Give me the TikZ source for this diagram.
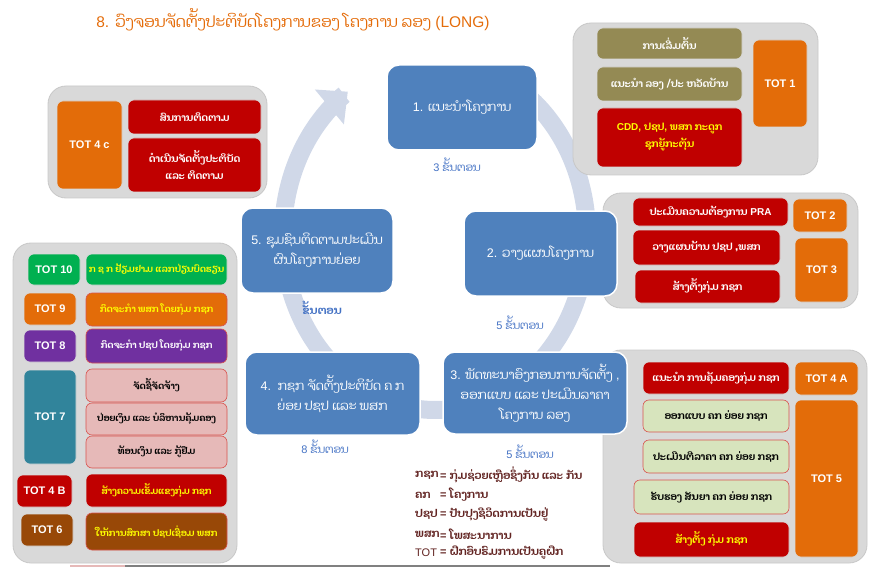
\documentclass[tikz,border=0pt]{standalone}
\usepackage{fontspec}
\setmainfont{Liberation Sans}
\newfontfamily\laofont[Script=Lao]{Dhyana}
\newcommand\lo[1]{{\laofont #1}}
\usetikzlibrary{arrows.meta}
\definecolor{stepblue}{HTML}{4F81BD}
\definecolor{ringc}{HTML}{D0D8E8}
\definecolor{panelg}{HTML}{D9D9D9}
\definecolor{panelb}{HTML}{C8C8C8}
\definecolor{olivec}{HTML}{948A54}
\definecolor{redc}{HTML}{C00000}
\definecolor{orangec}{HTML}{E36C09}
\definecolor{greenc}{HTML}{00B050}
\definecolor{purplec}{HTML}{7030A0}
\definecolor{tealc}{HTML}{31849B}
\definecolor{brownc}{HTML}{984807}
\definecolor{pinkc}{HTML}{E6B9B8}
\definecolor{lgreenc}{HTML}{D7E4BD}
\definecolor{titlec}{HTML}{E46C0A}
\definecolor{labelc}{HTML}{4472C4}
\definecolor{legendc}{HTML}{632523}
\definecolor{yellowt}{HTML}{FFFF00}
\definecolor{edgered}{HTML}{D9534F}
\tikzset{
  stepbox/.style={fill=stepblue, draw=white, line width=1.5pt, rounded corners=12pt,
    text=white, align=center, inner sep=0pt, font=\fontsize{12.5}{20}\selectfont},
  panel/.style={fill=panelg, draw=panelb, line width=0.8pt, rounded corners=18pt, inner sep=0pt},
  ibox/.style={rounded corners=6pt, inner sep=0pt, align=center, draw=white!70!gray, line width=0.6pt,
    font=\bfseries\fontsize{10}{17}\selectfont},
  lbox/.style={ibox, font=\bfseries\fontsize{9.2}{15}\selectfont},
  totbox/.style={ibox, text=white, font=\bfseries\fontsize{11}{13}\selectfont},
  redbox/.style={ibox, fill=redc},
  olivebox/.style={ibox, fill=olivec, text=white},
  greenbox/.style={ibox, fill=lgreenc, draw=edgered, text=black},
  pinkbox/.style={lbox, fill=pinkc, draw=edgered, text=black},
  steplabel/.style={text=labelc, inner sep=0pt, font=\fontsize{11}{13}\selectfont},
  legend/.style={text=legendc, inner sep=0pt, anchor=west, font=\bfseries\fontsize{11}{13}\selectfont},
  ring/.style={ringc, line width=18pt, -{Triangle[width=44pt,length=24pt]}}
}
\begin{document}
\begin{tikzpicture}[x=1pt, y=-1pt]
\path[use as bounding box] (0,0) rectangle (876,567);
% title
\node[text=titlec, inner sep=0pt, font=\fontsize{15.5}{18}\selectfont] (title) at (293,20)
  {8. \lo{ວົງຈອນຈັດຕັ້ງປະຕິບັດໂຄງການຂອງ ໂຄງການ ລອງ} (LONG)};
% ring
\draw[ring] plot[domain=-60:235, samples=120, smooth] ({435+152*cos(\x)},{235+175*sin(\x)});
% panels
\node[panel, minimum width=245pt, minimum height=152pt] (p1) at (695.5,99) {};
\node[panel, minimum width=219pt, minimum height=112pt] (p4c) at (157.5,142) {};
\node[panel, minimum width=255pt, minimum height=115pt] (p23) at (730.5,250.5) {};
\node[panel, minimum width=264pt, minimum height=213pt] (p45) at (735,456.5) {};
\node[panel, minimum width=224pt, minimum height=320pt] (pL) at (125,403) {};
% step boxes
\node[stepbox, minimum width=150pt, minimum height=85pt] (s1) at (462,107.5) {1. \lo{ແນະນຳໂຄງການ}};
\node[stepbox, minimum width=153pt, minimum height=85pt] (s2) at (540.5,253.5) {2. \lo{ວາງແຜນໂຄງການ}};
\node[stepbox, minimum width=184pt, minimum height=82pt] (s3) at (535,393)
  {3. \lo{ພັດທະນາອົງກອນການຈັດຕັ້ງ} ,\\ \lo{ອອກແບບ ແລະ ປະເມີນລາຄາ}\\ \lo{ໂຄງການ ລອງ}};
\node[stepbox, minimum width=175pt, minimum height=83pt] (s4) at (332.5,393.5)
  {4.\ \ \lo{ກຊກ ຈັດຕັ້ງປະຕິບັດ ຄ ກ}\\ \lo{ຍ່ອຍ ປຊປ ແລະ ພສກ}};
\node[stepbox, minimum width=152pt, minimum height=85pt] (s5) at (317,250.5)
  {5. \lo{ຊຸມຊົນຕິດຕາມປະເມີນ}\\ \lo{ຜົນໂຄງການຍ່ອຍ}};
% step counts
\node[steplabel] (n1) at (457,165) {3 \lo{ຂັ້ນຕອນ}};
\node[steplabel] (n2) at (520,323) {5 \lo{ຂັ້ນຕອນ}};
\node[steplabel, font=\bfseries\fontsize{11}{13}\selectfont] (n5) at (322,308) {\lo{ຂັ້ນຕອນ}};
\node[steplabel] (n4) at (325,447) {8 \lo{ຂັ້ນຕອນ}};
\node[steplabel] (n3) at (530,452) {5 \lo{ຂັ້ນຕອນ}};
% TOT 1 panel
\node[olivebox, minimum width=145pt, minimum height=31pt] (a1) at (669.5,43.5) {\lo{ການເລີ່ມຕົ້ນ}};
\node[olivebox, minimum width=145pt, minimum height=34pt] (a2) at (669.5,84) {\lo{ແນະນຳ ລອງ /ປະ ຫວັດບ້ານ}};
\node[redbox, text=yellowt, minimum width=145pt, minimum height=59pt] (a3) at (669.5,137.5)
  {CDD, \lo{ປຊປ}, \lo{ພສກ ກະດູກ}\\ \lo{ຊຸກຍູ້ກະຕຸ້ນ}};
\node[totbox, fill=orangec, minimum width=54pt, minimum height=87pt] (t1) at (780,83.5) {TOT 1};
% TOT 4c panel
\node[totbox, fill=orangec, minimum width=65pt, minimum height=88pt] (t4c) at (89.5,145) {TOT 4 c};
\node[redbox, text=white, minimum width=133pt, minimum height=34pt] (b1) at (194.5,117) {\lo{ສົນການຕິດຕາມ}};
\node[redbox, text=white, minimum width=133pt, minimum height=54pt] (b2) at (194.5,165)
  {\lo{ດຳເນີນຈັດຕັ້ງປະຕິບັດ}\\ \lo{ແລະ ຕິດຕາມ}};
% TOT 2/3 panel
\node[redbox, text=white, minimum width=155pt, minimum height=28pt] (c1) at (710.5,212) {\lo{ປະເມີນຄວາມຕ້ອງການ} PRA};
\node[redbox, text=white, minimum width=147pt, minimum height=35pt] (c2) at (706.5,247.5) {\lo{ວາງແຜນບ້ານ ປຊປ ,ພສກ}};
\node[redbox, text=white, minimum width=145pt, minimum height=33pt] (c3) at (707.5,286.5) {\lo{ສ້າງຕັ້ງກຸ່ມ ກຊກ}};
\node[totbox, fill=orangec, minimum width=54pt, minimum height=33pt] (t2) at (820,215.5) {TOT 2};
\node[totbox, fill=orangec, minimum width=53pt, minimum height=64pt] (t3) at (821.5,270) {TOT 3};
% TOT 4A/5 panel
\node[redbox, text=white, minimum width=146pt, minimum height=32pt] (d1) at (716,378) {\lo{ແນະນຳ ການຄຸ້ມຄອງກຸ່ມ ກຊກ}};
\node[greenbox, minimum width=146pt, minimum height=32pt] (d2) at (716,416) {\lo{ອອກແບບ ຄກ ຍ່ອຍ ກຊກ}};
\node[greenbox, minimum width=146pt, minimum height=33pt] (d3) at (716,456.5) {\lo{ປະເມີນຕີລາຄາ ຄກ ຍ່ອຍ ກຊກ}};
\node[greenbox, minimum width=155pt, minimum height=34pt] (d4) at (711.5,497) {\lo{ຮັບຮອງ ສັນຍາ ຄກ ຍ່ອຍ ກຊກ}};
\node[redbox, text=yellowt, minimum width=155pt, minimum height=35pt] (d5) at (711.5,539.5) {\lo{ສ້າງຕັ້ງ ກຸ່ມ ກຊກ}};
\node[totbox, fill=orangec, minimum width=63pt, minimum height=33pt] (t4a) at (826.5,378.5) {TOT 4 A};
\node[totbox, fill=orangec, minimum width=63pt, minimum height=157pt] (t5) at (826.5,478.5) {TOT 5};
% left panel
\node[totbox, fill=greenc, minimum width=52pt, minimum height=31pt] (t10) at (54,269.5) {TOT 10};
\node[lbox, fill=greenc, text=yellowt, minimum width=141pt, minimum height=31pt] (e10) at (156.5,269.5) {\lo{ກ ຊ ກ ຢ້ຽມຢາມ ແລກປ່ຽນບົດຮຽນ}};
\node[totbox, fill=orangec, minimum width=52pt, minimum height=32pt] (t9) at (50,309) {TOT 9};
\node[lbox, fill=orangec, draw=edgered, text=yellowt, minimum width=141pt, minimum height=33pt] (e9) at (156.5,309.5) {\lo{ກິດຈະກຳ ພສກ ໂດຍກຸ່ມ ກຊກ}};
\node[totbox, fill=purplec, minimum width=52pt, minimum height=32pt] (t8) at (50,346) {TOT 8};
\node[lbox, fill=purplec, draw=edgered, text=white, minimum width=141pt, minimum height=34pt] (e8) at (156.5,346) {\lo{ກິດຈະກຳ ປຊປ ໂດຍກຸ່ມ ກຊກ}};
\node[totbox, fill=tealc, minimum width=52pt, minimum height=94pt] (t7) at (50,417) {TOT 7};
\node[pinkbox, minimum width=141pt, minimum height=33pt] (e7a) at (156.5,385.5) {\lo{ຈັດຊື້ຈັດຈ້າງ}};
\node[pinkbox, minimum width=141pt, minimum height=32pt] (e7b) at (156.5,419) {\lo{ປ່ອຍເງິນ ແລະ ບໍລິຫານຄຸ້ມຄອງ}};
\node[pinkbox, minimum width=141pt, minimum height=32pt] (e7c) at (156.5,452) {\lo{ທ້ອນເງິນ ແລະ ກູ້ຢືມ}};
\node[totbox, fill=redc, minimum width=55pt, minimum height=32pt] (t4b) at (44.5,491) {TOT 4 B};
\node[lbox, fill=redc, text=yellowt, minimum width=141pt, minimum height=33pt] (e4b) at (156.5,490.5) {\lo{ສ້າງຄວາມເຂັ້ມແຂງກຸ່ມ ກຊກ}};
\node[totbox, fill=brownc, minimum width=52pt, minimum height=32pt] (t6) at (47,530) {TOT 6};
\node[lbox, fill=brownc, draw=edgered, text=yellowt, minimum width=141pt, minimum height=37pt] (e6) at (156.5,531.5) {\lo{ໃຫ້ການສຶກສາ ປຊປເຊື່ອມ ພສກ}};
% legend
\node[legend] (g1) at (415,475) {\lo{ກຊກ}};
\node[legend] (h1) at (440,475) {= \lo{ກຸ່ມຊ່ວຍເຫຼືອຊຶ່ງກັນ ແລະ ກັນ}};
\node[legend] (g2) at (415,495) {\lo{ຄກ}};
\node[legend] (h2) at (440,495) {= \lo{ໂຄງການ}};
\node[legend] (g3) at (415,514) {\lo{ປຊປ}};
\node[legend] (h3) at (440,514) {= \lo{ປັບປຸງຊີວິດການເປັນຢູ່}};
\node[legend] (g4) at (415,534) {\lo{ພສກ}};
\node[legend] (h4) at (440,534) {= \lo{ໂພສະນາການ}};
\node[legend, font=\fontsize{11}{13}\selectfont] (g5) at (415,553) {TOT};
\node[legend] (h5) at (440,553) {= \lo{ຝຶກອົບຮົມການເປັນຄູຝຶກ}};
% bottom edge
\draw[gray, line width=1.2pt] (125,566) -- (610,566);
\draw[pinkc, line width=1.2pt] (70,566) -- (125,566);
\end{tikzpicture}
\end{document}
